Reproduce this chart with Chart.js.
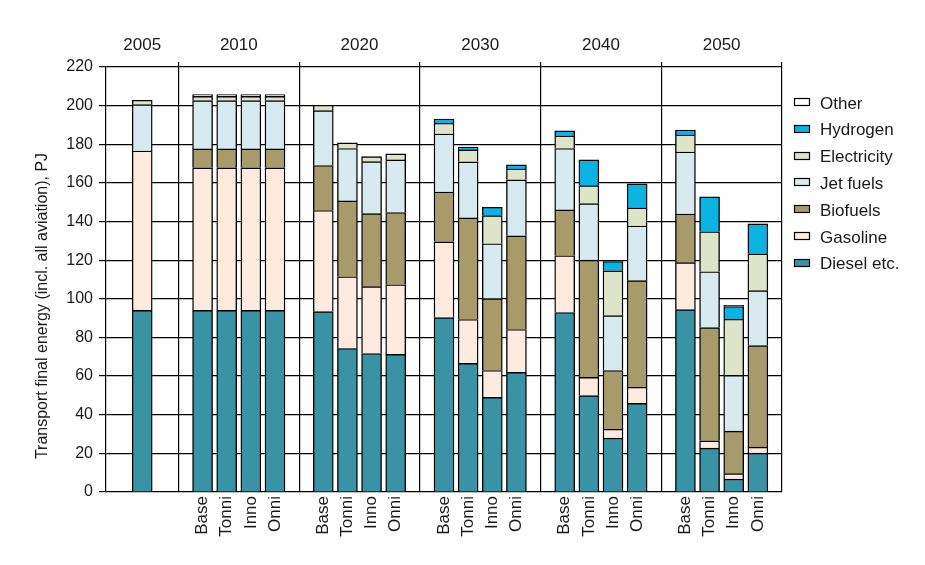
<!DOCTYPE html>
<html><head><meta charset="utf-8">
<script src="https://cdn.jsdelivr.net/npm/chart.js@4/dist/chart.umd.min.js"></script>
<style>html,body{margin:0;padding:0;background:#fff;}canvas{display:block;}</style>
</head><body>
<canvas id="c" width="925" height="565"></canvas>
<script>
// ---- data ----
const years = ['2005', '2010', '2020', '2030', '2040', '2050'];
const scenarios = ['Base', 'Tonni', 'Inno', 'Onni'];
// bar order: 2005, then 4 scenarios for each of 2010..2050
const barLabels = ['', 'Base', 'Tonni', 'Inno', 'Onni', 'Base', 'Tonni', 'Inno', 'Onni',
  'Base', 'Tonni', 'Inno', 'Onni', 'Base', 'Tonni', 'Inno', 'Onni', 'Base', 'Tonni', 'Inno', 'Onni'];
const diesel      = [94,   94, 94, 94, 94,   93.4, 74.3, 71.7, 71.2,   90.3, 66.6, 49, 61.9,   92.9, 49.9, 27.9, 45.9,   94.4, 22.7, 6.7, 20.1];
const gasoline    = [82.5, 73.8, 73.8, 73.8, 73.8,   52.3, 37.1, 34.6, 36.1,   39.2, 22.7, 13.9, 22.2,   29.4, 9.4, 4.6, 8.3,   24.3, 3.8, 2.8, 3.1];
const biofuels    = [0,    9.8, 9.8, 9.8, 9.8,   23.3, 39.3, 37.8, 37.4,   25.8, 52.6, 37.2, 48.5,   23.7, 60.7, 30.4, 55.2,   25.2, 58.6, 22, 52.6];
const jetFuels    = [24,   25, 25, 25, 25,   28.4, 27.1, 26.9, 27.2,   30, 29, 28.4, 29,   31.8, 29.3, 28.4, 28.3,   32.1, 28.9, 28.9, 28.4];
const electricity = [2.3,  2.2, 2.2, 2.2, 2.2,   2.8, 2.9, 2.6, 3.1,   5.6, 6.2, 14.6, 5.6,   6.5, 9.3, 23.2, 9.3,   8.8, 20.7, 29, 19.1];
const hydrogen    = [0,    0, 0, 0, 0,   0, 0, 0, 0,   2.2, 1.5, 4.3, 2.1,   2.6, 13.3, 4.8, 12.5,   2.6, 18.1, 6.6, 15.5];
const other       = [0,    0.9, 0.9, 0.9, 0.9,   0, 0, 0, 0,   0, 0, 0, 0,   0, 0, 0, 0,   0, 0, 0.6, 0];
const seriesNames = ['Diesel etc.', 'Gasoline', 'Biofuels', 'Jet fuels', 'Electricity', 'Hydrogen', 'Other'];
const seriesValues = [diesel, gasoline, biofuels, jetFuels, electricity, hydrogen, other];
const seriesColors = ['#3a92a5', '#fdebdf', '#a89b6b', '#d8eaf0', '#dee4c9', '#0bb3e3', '#ffffff'];
const yTickValues = [0, 20, 40, 60, 80, 100, 120, 140, 160, 180, 200, 220];
const yTitle = 'Transport final energy (incl. all aviation), PJ';

// ---- layout on a half-slot category axis ----
const N = 57;
const barSlots = [3];
for (let g = 0; g < 5; g++) for (let s = 0; s < 4; s++) barSlots.push(8 + 10 * g + 2 * s);
const yearSlots = [3, 11, 21, 31, 41, 51];
const sepSlots = [6, 16, 26, 36, 46, 56];

const bottomLabels = Array(N).fill('');
barSlots.forEach((slot, k) => { bottomLabels[slot] = barLabels[k]; });
const topLabels = Array(N).fill('');
yearSlots.forEach((slot, k) => { topLabels[slot] = years[k]; });

const datasets = seriesNames.map((name, i) => {
  const data = Array(N).fill(null);
  barSlots.forEach((slot, k) => { const v = seriesValues[i][k]; data[slot] = v > 0 ? v : null; });
  return {
    label: name, data,
    backgroundColor: seriesColors[i], borderColor: '#000', borderWidth: 1.4,
    barThickness: 20, stack: 's'
  };
});

const FONT = '"Liberation Sans", Arial, Helvetica, sans-serif';
const TXT = '#1a1a1a';

const extras = {
  id: 'extras',
  afterDraw(chart) {
    const ctx = chart.ctx;
    ctx.save();
    // y axis title
    ctx.translate(43, 306);
    ctx.rotate(-Math.PI / 2);
    ctx.font = '16px ' + FONT;
    ctx.fillStyle = TXT;
    ctx.textAlign = 'center';
    ctx.textBaseline = 'middle';
    ctx.fillText(yTitle, 0, 0);
    ctx.restore();
    // legend (top-down: reverse of stacking order)
    ctx.save();
    const x0 = chart.chartArea.right + 12;
    const order = chart.data.datasets.map((d, i) => i).reverse();
    order.forEach((di, r) => {
      const ds = chart.data.datasets[di];
      const cy = 102 + r * 26.8;
      ctx.fillStyle = ds.backgroundColor;
      ctx.fillRect(x0, Math.round(cy - 4), 16, 8);
      ctx.strokeStyle = '#000';
      ctx.lineWidth = 1.2;
      ctx.strokeRect(x0 + 0.5, Math.round(cy - 4) + 0.5, 15, 7);
      ctx.font = '17px ' + FONT;
      ctx.fillStyle = TXT;
      ctx.textAlign = 'left';
      ctx.textBaseline = 'middle';
      ctx.fillText(ds.label, x0 + 26, cy + 2);
    });
    ctx.restore();
  }
};

new Chart(document.getElementById('c'), {
  type: 'bar',
  data: { labels: bottomLabels, datasets },
  options: {
    responsive: false,
    devicePixelRatio: 1,
    animation: false,
    layout: { padding: { left: 0, right: 143, top: 0, bottom: 0 } },
    plugins: { legend: { display: false }, tooltip: { enabled: false } },
    scales: {
      x: {
        type: 'category', position: 'bottom', stacked: true,
        offset: false, min: 0, max: N - 1,
        grid: { display: false, drawTicks: false, offset: false },
        border: { display: false },
        ticks: { autoSkip: false, minRotation: 90, maxRotation: 90, padding: 4,
                 font: { family: FONT, size: 17 }, color: TXT },
        afterFit(scale) { scale.height = 73; }
      },
      x2: {
        type: 'category', position: 'top', labels: topLabels,
        offset: false, min: 0, max: N - 1,
        grid: {
          display: true, drawOnChartArea: true, offset: false, tickLength: 5, lineWidth: 1.2,
          color: (ctx) => sepSlots.includes(ctx.index) ? '#000' : 'rgba(0,0,0,0)'
        },
        border: { display: false },
        ticks: { autoSkip: false, maxRotation: 0, minRotation: 0, padding: 6,
                 font: { family: FONT, size: 17 }, color: TXT },
        afterFit(scale) { scale.height = 67; }
      },
      y: {
        stacked: true, min: 0, max: 220,
        afterBuildTicks(scale) { scale.ticks = yTickValues.map(v => ({ value: v })); },
        grid: { color: '#000', lineWidth: 1.2, tickLength: 7 },
        border: { display: true, color: '#000', width: 1.2 },
        ticks: { padding: 6, font: { family: FONT, size: 16 }, color: TXT },
        afterFit(scale) { scale.width = 106; }
      }
    }
  },
  plugins: [extras]
});
</script>
</body></html>
